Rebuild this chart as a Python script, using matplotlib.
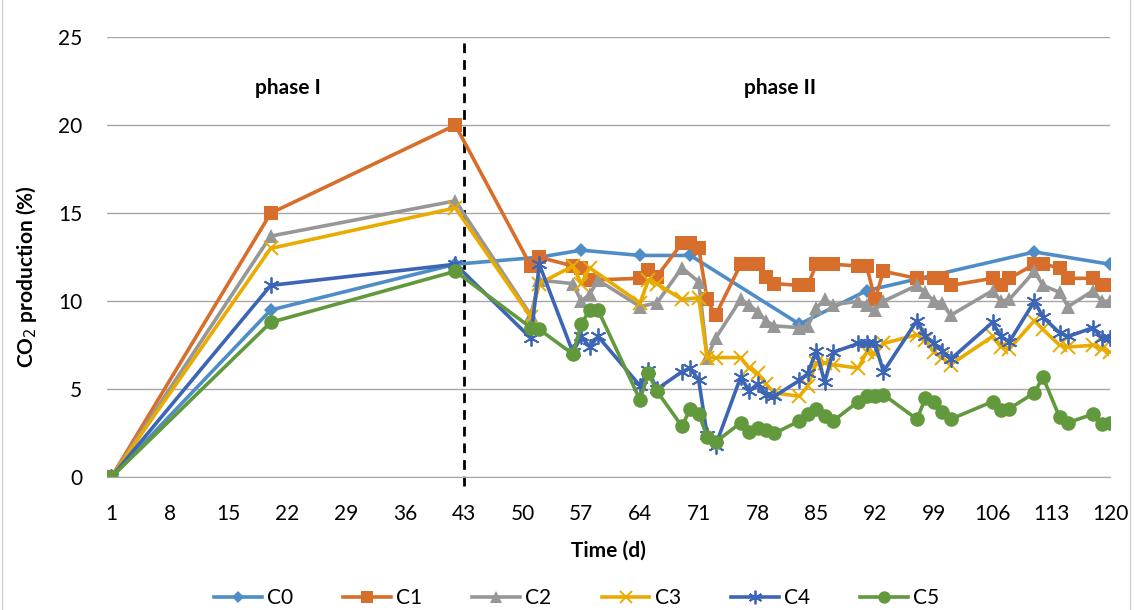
import matplotlib
matplotlib.use("Agg")
import matplotlib.pyplot as plt
from matplotlib.lines import Line2D

plt.rcParams['font.family'] = ['Lato', 'DejaVu Sans']

# measurement days and CO2 production (%) for each treatment
c0_days = [1, 20, 42, 52, 57, 64, 70, 83, 91, 111, 120]
c0 = [0, 9.5, 12.1, 12.5, 12.9, 12.6, 12.6, 8.7, 10.6, 12.8, 12.1]

c1_days = [1, 20, 42, 51, 52, 56, 57, 58, 64, 65, 66, 69, 70, 71, 72, 73, 76, 77, 78, 79, 80,
           83, 84, 85, 86, 87, 90, 91, 92, 93, 97, 99, 100, 101, 106, 107, 108, 111, 112,
           114, 115, 118, 119, 120]
c1 = [0, 15.0, 20.0, 12.0, 12.5, 12.0, 11.9, 11.2, 11.3, 11.8, 11.4, 13.3, 13.3, 13.0, 10.1, 9.2,
      12.1, 12.1, 12.1, 11.4, 11.0, 10.9, 10.9, 12.1, 12.1, 12.1, 12.0, 12.0, 10.1, 11.7,
      11.3, 11.3, 11.3, 10.9, 11.3, 10.9, 11.3, 12.1, 12.1, 11.9, 11.3, 11.3, 10.9, 10.9]

c2_days = [1, 20, 42, 51, 52, 56, 57, 58, 59, 64, 66, 69, 71, 72, 73, 76, 77, 78, 79, 80,
           83, 84, 85, 86, 87, 90, 91, 92, 93, 97, 98, 99, 100, 101, 106, 107, 108, 111, 112,
           114, 115, 118, 119, 120]
c2 = [0, 13.7, 15.7, 9.2, 11.2, 11.0, 10.0, 10.4, 11.2, 9.7, 9.9, 11.9, 11.1, 6.8, 7.9,
      10.1, 9.8, 9.4, 8.9, 8.6, 8.5, 8.6, 9.6, 10.1, 9.8, 10.0, 9.8, 9.5, 10.0,
      10.9, 10.5, 10.0, 9.9, 9.2, 10.6, 10.0, 10.1, 11.7, 10.9, 10.5, 9.7, 10.6, 10.0, 10.0]

c3_days = [1, 20, 42, 51, 52, 56, 57, 58, 64, 65, 66, 69, 71, 72, 73, 76, 77, 78, 79, 80,
           83, 84, 85, 86, 87, 90, 91, 92, 93, 97, 98, 99, 100, 101, 106, 107, 108, 111, 112,
           114, 115, 118, 119, 120]
c3 = [0, 13.0, 15.3, 9.1, 11.0, 12.0, 11.0, 11.9, 9.9, 11.2, 11.0, 10.1, 10.2, 6.8, 6.8,
      6.8, 6.2, 5.9, 5.3, 4.8, 4.6, 5.2, 6.5, 6.5, 6.4, 6.2, 7.1, 7.0, 7.6,
      8.1, 7.8, 7.1, 6.8, 6.4, 8.0, 7.4, 7.3, 8.9, 8.4, 7.5, 7.4, 7.5, 7.3, 7.1]

c4_days = [1, 20, 42, 51, 52, 56, 57, 58, 59, 64, 65, 66, 69, 70, 71, 72, 73, 76, 77, 78, 79, 80,
           83, 84, 85, 86, 87, 90, 91, 92, 93, 97, 98, 99, 100, 101, 106, 107, 108, 111, 112,
           114, 115, 118, 119, 120]
c4 = [0, 10.9, 12.1, 7.9, 12.1, 7.1, 8.0, 7.4, 8.0, 5.2, 6.1, 5.0, 6.0, 6.2, 5.5, 2.4, 1.8,
      5.7, 4.9, 5.3, 4.7, 4.6, 5.5, 5.9, 7.2, 5.4, 7.1, 7.6, 7.6, 7.6, 6.0,
      8.9, 8.0, 7.6, 7.2, 6.7, 8.8, 8.0, 7.7, 10.0, 9.1, 8.2, 8.0, 8.5, 7.9, 7.9]

c5_days = c4_days
c5 = [0, 8.8, 11.7, 8.5, 8.4, 7.0, 8.7, 9.5, 9.5, 4.4, 5.9, 4.9, 2.9, 3.9, 3.6, 2.3, 2.0,
      3.1, 2.6, 2.8, 2.7, 2.5, 3.2, 3.6, 3.9, 3.5, 3.2, 4.3, 4.6, 4.6, 4.7,
      3.3, 4.5, 4.3, 3.7, 3.3, 4.3, 3.8, 3.9, 4.8, 5.7, 3.4, 3.1, 3.6, 3.0, 3.1]

names = ["C0", "C1", "C2", "C3", "C4", "C5"]
x_ticks = list(range(1, 121, 7))
phase_split = 43

series = [
    (c0_days, c0, "#4f8dc7", "D", 7.5, 0),
    (c1_days, c1, "#d86e2b", "s", 9.5, 0),
    (c2_days, c2, "#979797", "^", 9.5, 0),
    (c3_days, c3, "#e9ab00", "x", 9.5, 1.4),
    (c4_days, c4, "#3c65b5", (6, 2, 0), 11.5, 1.3),
    (c5_days, c5, "#62993d", "o", 10.5, 0),
]

fig = plt.figure(figsize=(11.35, 6.1), dpi=100)
ax = fig.add_axes([0.0943, 0.2175, 0.8837, 0.7217])

handles = []
for (d, v, col, mk, ms, mew), name in zip(series, names):
    ax.plot(d, v, color=col, lw=2.6, marker=mk, markersize=ms,
            markeredgewidth=mew, markeredgecolor=col, markerfacecolor=col)
    handles.append(Line2D([], [], color=col, lw=2.6, marker=mk, markersize=ms * 0.85,
                          markeredgewidth=mew, markeredgecolor=col, markerfacecolor=col))

ax.axvline(phase_split, ymin=-0.02, ymax=1, color="black", lw=2, ls=(0, (3.5, 2.5)),
           clip_on=False, zorder=1)

ax.set_xlim(0.5, 120)
ax.set_ylim(0, 25)
ax.set_xticks(x_ticks)
ax.set_yticks(range(0, 26, 5))
ax.tick_params(axis="both", length=0, labelsize=15)
ax.tick_params(axis="x", pad=19)
ax.tick_params(axis="y", pad=18)
ax.yaxis.grid(True, color="#a6a6a6", lw=1)
ax.set_axisbelow(True)
for s in ["top", "right", "left"]:
    ax.spines[s].set_visible(False)
ax.spines["bottom"].set_color("#a6a6a6")

ax.text(22, 22.1, "phase I", fontsize=15, fontweight="bold", ha="center", va="center")
ax.text(80.7, 22.1, "phase II", fontsize=15, fontweight="bold", ha="center", va="center")

ax.set_xlabel("Time (d)", fontsize=15, fontweight="bold", labelpad=12)
ax.set_ylabel("CO$_2$ production (%)", fontsize=15, fontweight="bold")
ax.yaxis.set_label_coords(-0.068, 0.455)

fig.legend(handles, names, loc="center", bbox_to_anchor=(0.508, 0.02), ncol=6,
           frameon=False, fontsize=15, handlelength=2.3, columnspacing=2.4,
           handletextpad=0.25, borderpad=0)

# chart border
fig.add_artist(Line2D([0.002, 0.002], [0, 1], color="#d0d0d0", lw=1))
fig.add_artist(Line2D([0.996, 0.996], [0, 1], color="#d0d0d0", lw=1))

plt.savefig("out.png", dpi=100)
